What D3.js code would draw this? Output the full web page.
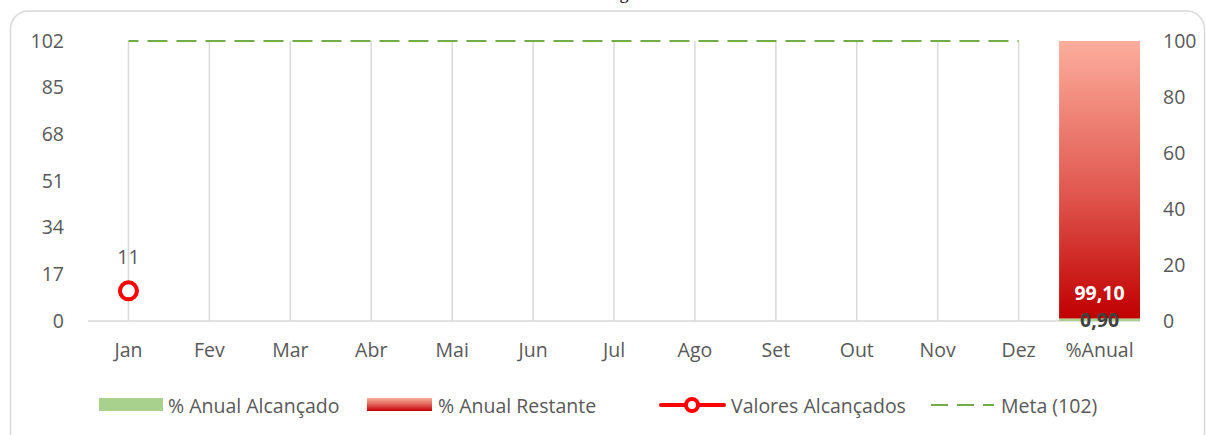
<!DOCTYPE html>
<html>
<head>
<meta charset="utf-8">
<script src="https://cdn.jsdelivr.net/npm/d3@7"></script>
<style>
  html, body { margin: 0; padding: 0; background: #fff; }
  svg { display: block; }
</style>
</head>
<body>
<svg id="chart" width="1206" height="435"></svg>
<script>
// ---- data ---------------------------------------------------------
const months     = ["Jan","Fev","Mar","Abr","Mai","Jun","Jul","Ago","Set","Out","Nov","Dez"];
const categories = [...months, "%Anual"];
const achieved   = [11, null, null, null, null, null, null, null, null, null, null, null];
const metaValue  = 102;
const leftTicks  = [0, 17, 34, 51, 68, 85, 102];
const rightTicks = [0, 20, 40, 60, 80, 100];
const annualParts = [
  { key: "% Anual Alcançado", value: 0.90 },
  { key: "% Anual Restante",  value: 99.10 }
];
const legendItems = ["% Anual Alcançado", "% Anual Restante", "Valores Alcançados", "Meta (102)"];

// ---- setup --------------------------------------------------------
const FONT = "'Open Sans', Lato, sans-serif";
const FS   = 19.5;
const TXT  = "#595959";
const svg  = d3.select("#chart");

const x  = d3.scaleBand().domain(categories).range([88, 1140]).padding(0);
const yL = d3.scaleLinear().domain([0, 102]).range([321, 41]);
const yR = d3.scaleLinear().domain([0, 100]).range([321, 41]);
const cx = d => x(d) + x.bandwidth() / 2;

// gradient for the "remaining" bar
const defs = svg.append("defs");
const grad = defs.append("linearGradient").attr("id", "redGrad")
  .attr("x1", 0).attr("y1", 0).attr("x2", 0).attr("y2", 1);
grad.append("stop").attr("offset", "0%").attr("stop-color", "#FCAE9C");
grad.append("stop").attr("offset", "55%").attr("stop-color", "#E0574F");
grad.append("stop").attr("offset", "100%").attr("stop-color", "#C00000");

// chart frame
svg.append("rect")
  .attr("x", 10.5).attr("y", 11).attr("width", 1194).attr("height", 440)
  .attr("rx", 18).attr("ry", 18)
  .attr("fill", "#fff").attr("stroke", "#D9D9D9").attr("stroke-width", 1.5);

// clipped title (only its descender shows in the frame)
svg.append("text")
  .attr("x", 624).attr("y", -1)
  .attr("text-anchor", "middle")
  .attr("font-family", "'Liberation Serif', serif").attr("font-size", 18).attr("fill", "#000")
  .text("g");

// vertical gridlines at month centres
svg.append("g").selectAll("line")
  .data(months).enter().append("line")
    .attr("x1", d => cx(d)).attr("x2", d => cx(d))
    .attr("y1", yL(102)).attr("y2", yL(0))
    .attr("stroke", "#D9D9D9").attr("stroke-width", 1.5);

// baseline
svg.append("line")
  .attr("x1", 88).attr("x2", 1140)
  .attr("y1", yL(0)).attr("y2", yL(0))
  .attr("stroke", "#D9D9D9").attr("stroke-width", 1.5);

// stacked annual bar
let acc = 0;
const stacked = annualParts.map(p => { const s = { ...p, y0: acc, y1: acc + p.value }; acc += p.value; return s; });
svg.append("g").selectAll("rect")
  .data(stacked).enter().append("rect")
    .attr("x", x("%Anual"))
    .attr("width", x.bandwidth())
    .attr("y", d => yR(d.y1))
    .attr("height", d => yR(d.y0) - yR(d.y1))
    .attr("fill", (d, i) => i === 0 ? "#A9D18E" : "url(#redGrad)");

// bar labels
const fmt = v => v.toFixed(2).replace(".", ",");
svg.append("text")
  .attr("x", cx("%Anual")).attr("y", yR(stacked[1].y0) - 26)
  .attr("text-anchor", "middle").attr("dominant-baseline", "central")
  .attr("font-family", FONT).attr("font-size", FS).attr("font-weight", "bold")
  .attr("fill", "#fff").text(fmt(stacked[1].value));
svg.append("text")
  .attr("x", cx("%Anual")).attr("y", yR(stacked[0].y0 + stacked[0].value / 2))
  .attr("text-anchor", "middle").attr("dominant-baseline", "central")
  .attr("font-family", FONT).attr("font-size", FS).attr("font-weight", "bold")
  .attr("fill", "#404040").text(fmt(stacked[0].value));

// meta dashed line
svg.append("line")
  .attr("x1", cx("Jan")).attr("x2", cx("Dez"))
  .attr("y1", yL(metaValue)).attr("y2", yL(metaValue))
  .attr("stroke", "#70AD47").attr("stroke-width", 2)
  .attr("stroke-dasharray", "20,9").attr("stroke-dashoffset", 10);

// achieved values line + markers
const pts = months.map((m, i) => ({ m, v: achieved[i] })).filter(d => d.v != null);
svg.append("path")
  .datum(pts)
  .attr("fill", "none").attr("stroke", "#FF0000").attr("stroke-width", 4)
  .attr("d", d3.line().x(d => cx(d.m)).y(d => yL(d.v)));
svg.append("g").selectAll("circle")
  .data(pts).enter().append("circle")
    .attr("cx", d => cx(d.m)).attr("cy", d => yL(d.v)).attr("r", 8.5)
    .attr("fill", "#fff").attr("stroke", "#FF0000").attr("stroke-width", 4);
svg.append("g").selectAll("text")
  .data(pts).enter().append("text")
    .attr("x", d => cx(d.m)).attr("y", d => yL(d.v) - 34)
    .attr("text-anchor", "middle").attr("dominant-baseline", "central")
    .attr("font-family", FONT).attr("font-size", FS).attr("fill", TXT)
    .text(d => d.v);

// axes
function styleAxis(g) {
  g.select(".domain").remove();
  g.selectAll(".tick line").remove();
  g.selectAll("text").attr("font-family", FONT).attr("font-size", FS).attr("fill", TXT);
}
svg.append("g").attr("transform", "translate(66,0)")
  .call(d3.axisLeft(yL).tickValues(leftTicks).tickSize(0).tickPadding(2))
  .call(styleAxis);
svg.append("g").attr("transform", "translate(1161,0)")
  .call(d3.axisRight(yR).tickValues(rightTicks).tickSize(0).tickPadding(2))
  .call(styleAxis);
svg.append("g").attr("transform", `translate(0,${yL(0) + 20})`)
  .call(d3.axisBottom(x).tickSize(0).tickPadding(2))
  .call(styleAxis);

// legend
const lg = svg.append("g").attr("font-family", FONT).attr("font-size", FS).attr("fill", TXT);
const ly = 405;
lg.append("rect").attr("x", 99).attr("y", ly - 7).attr("width", 64).attr("height", 13).attr("fill", "#A9D18E");
lg.append("text").attr("x", 168).attr("y", ly).attr("dominant-baseline", "central").text(legendItems[0]);
lg.append("rect").attr("x", 367).attr("y", ly - 7).attr("width", 65).attr("height", 13).attr("fill", "url(#redGrad)");
lg.append("text").attr("x", 438).attr("y", ly).attr("dominant-baseline", "central").text(legendItems[1]);
lg.append("line").attr("x1", 661).attr("x2", 724).attr("y1", ly).attr("y2", ly)
  .attr("stroke", "#FF0000").attr("stroke-width", 4).attr("stroke-linecap", "round");
lg.append("circle").attr("cx", 692).attr("cy", ly).attr("r", 6)
  .attr("fill", "#fff").attr("stroke", "#FF0000").attr("stroke-width", 4);
lg.append("text").attr("x", 731).attr("y", ly).attr("dominant-baseline", "central").text(legendItems[2]);
lg.append("line").attr("x1", 931).attr("x2", 994).attr("y1", ly).attr("y2", ly)
  .attr("stroke", "#70AD47").attr("stroke-width", 2).attr("stroke-dasharray", "17,9");
lg.append("text").attr("x", 1001).attr("y", ly).attr("dominant-baseline", "central").text(legendItems[3]);
</script>
</body>
</html>
